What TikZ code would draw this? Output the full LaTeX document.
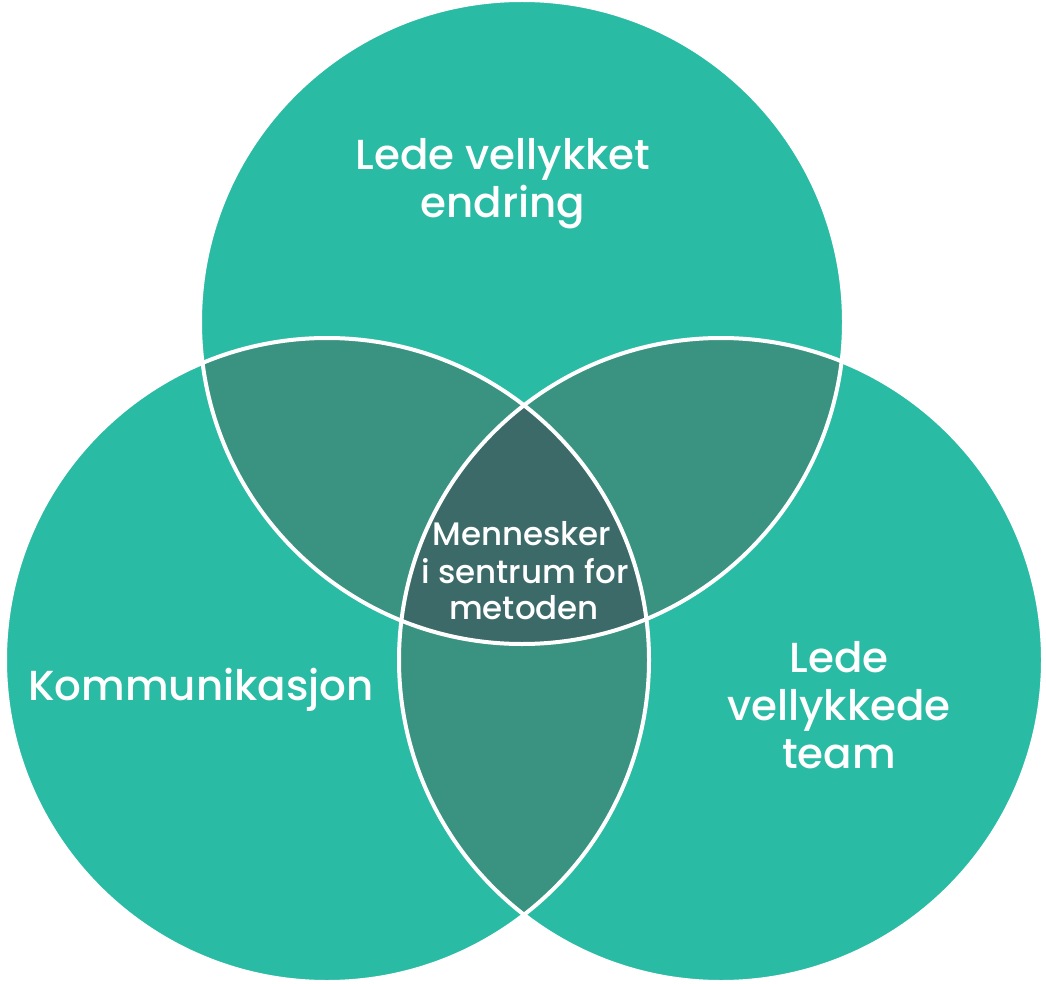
\documentclass[tikz,border=0pt]{standalone}
\usepackage{fontspec}
\setmainfont{Poppins}[UprightFont={* Medium}]
\definecolor{lt}{HTML}{2ABBA5}
\definecolor{md}{HTML}{3A9281}
\definecolor{dk}{HTML}{3C6A68}
\begin{document}
\begin{tikzpicture}[x=1pt,y=-1pt,
  big/.style={text=white,inner sep=0pt,anchor=base,font=\fontsize{42}{48}\selectfont},
  small/.style={text=white,inner sep=0pt,anchor=base,font=\fontsize{32.5}{36}\selectfont},
  ring/.style={draw=white,line width=4pt}]
\useasboundingbox (0,0) rectangle (1046,984);
\coordinate (T) at (522,322);
\coordinate (L) at (327,660);
\coordinate (R) at (721,660);
\def\rr{322pt}
\fill[lt] (T) circle[radius=\rr];
\fill[lt] (L) circle[radius=\rr];
\fill[lt] (R) circle[radius=\rr];
\begin{scope}
  \clip (T) circle[radius=\rr];
  \fill[md] (L) circle[radius=\rr];
  \fill[md] (R) circle[radius=\rr];
\end{scope}
\begin{scope}
  \clip (L) circle[radius=\rr];
  \fill[md] (R) circle[radius=\rr];
\end{scope}
\begin{scope}
  \clip (T) circle[radius=\rr];
  \clip (L) circle[radius=\rr];
  \fill[dk] (R) circle[radius=\rr];
\end{scope}
\draw[ring] (T) circle[radius=\rr];
\draw[ring] (L) circle[radius=\rr];
\draw[ring] (R) circle[radius=\rr];
\node[big] (top1) at (503,170) {Lede vellykket};
\node[big] (top2) at (503,218) {endring};
\node[big] (left1) at (201,700) {Kommunikasjon};
\node[big] (right1) at (839,672) {Lede};
\node[big] (right2) at (839,720) {vellykkede};
\node[big] (right3) at (839,768) {team};
\node[small] (mid1) at (522,545) {Mennesker};
\node[small] (mid2) at (525,583) {i sentrum for};
\node[small] (mid3) at (524,619) {metoden};
\end{tikzpicture}
\end{document}
